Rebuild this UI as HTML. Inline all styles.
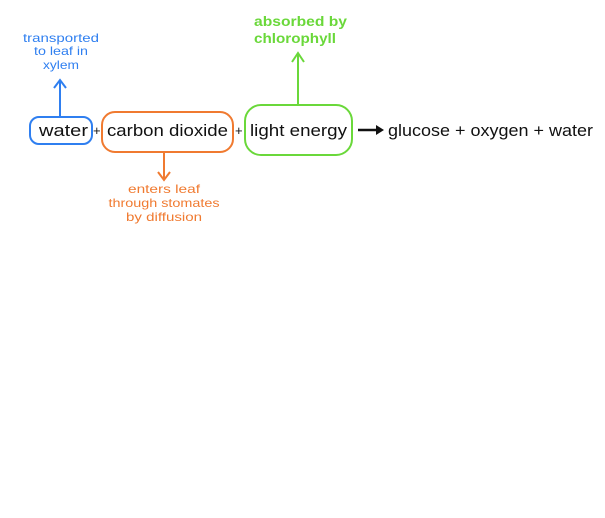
<!DOCTYPE html>
<html><head><meta charset="utf-8"><style>
html,body{margin:0;padding:0;background:#fff;}
svg{display:block}
text{font-family:"Liberation Sans","DejaVu Sans",sans-serif;}
</style></head><body>
<svg width="605" height="518" viewBox="0 0 605 518" xmlns="http://www.w3.org/2000/svg">
<rect width="605" height="518" fill="#fff"/>
<rect x="30" y="117" width="62" height="27" rx="9" fill="none" stroke="#2f7ff0" stroke-width="2"/>
<rect x="102" y="112" width="131" height="40" rx="13" fill="none" stroke="#f07a30" stroke-width="2"/>
<rect x="245" y="105" width="107" height="50" rx="16" fill="none" stroke="#6ad83a" stroke-width="2"/>
<path d="M60 117 V80 M54 88 L60 80 L66 88" fill="none" stroke="#2f7ff0" stroke-width="2"/>
<path d="M298 105 V53 M292 62 L298 53 L304 62" fill="none" stroke="#6ad83a" stroke-width="2"/>
<path d="M164 152 V180 M158 172 L164 180 L170 172" fill="none" stroke="#f07a30" stroke-width="2"/>
<path d="M358 130 H378" stroke="#111" stroke-width="2.5"/>
<path d="M376 125 L384 130 L376 135 Z" fill="#111"/>
<g font-size="17" fill="#111" lengthAdjust="spacingAndGlyphs">
<text x="39" y="136" textLength="49" lengthAdjust="spacingAndGlyphs">water</text>
<text x="93" y="135" font-size="13">+</text>
<text x="107" y="136" textLength="121" lengthAdjust="spacingAndGlyphs">carbon dioxide</text>
<text x="235" y="135" font-size="13">+</text>
<text x="250" y="136" textLength="97" lengthAdjust="spacingAndGlyphs">light energy</text>
<text x="388" y="136" textLength="205" lengthAdjust="spacingAndGlyphs">glucose + oxygen + water</text>
</g>
<g font-size="12" fill="#2f7ff0" text-anchor="middle">
<text x="61" y="42" textLength="76" lengthAdjust="spacingAndGlyphs">transported</text>
<text x="61" y="55" textLength="54" lengthAdjust="spacingAndGlyphs">to leaf in</text>
<text x="61" y="69" textLength="36" lengthAdjust="spacingAndGlyphs">xylem</text>
</g>
<g font-size="14" fill="#6ad83a" font-weight="bold">
<text x="254" y="26" textLength="93" lengthAdjust="spacingAndGlyphs">absorbed by</text>
<text x="254" y="43" textLength="82" lengthAdjust="spacingAndGlyphs">chlorophyll</text>
</g>
<g font-size="12" fill="#f07a30" text-anchor="middle">
<text x="164" y="193" textLength="72" lengthAdjust="spacingAndGlyphs">enters leaf</text>
<text x="164" y="207" textLength="111" lengthAdjust="spacingAndGlyphs">through stomates</text>
<text x="164" y="221" textLength="76" lengthAdjust="spacingAndGlyphs">by diffusion</text>
</g>
</svg>
</body></html>
